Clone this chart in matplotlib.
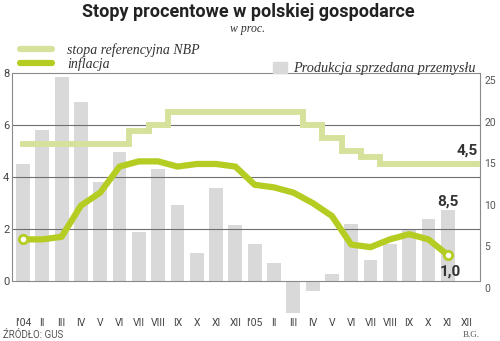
import numpy as np
import matplotlib
matplotlib.use("Agg")
import matplotlib.pyplot as plt
from matplotlib.lines import Line2D
from matplotlib.patches import Patch
from matplotlib.transforms import ScaledTranslation

months = ["I'04", "II", "III", "IV", "V", "VI", "VII", "VIII", "IX", "X", "XI", "XII",
          "I'05", "II", "III", "IV", "V", "VI", "VII", "VIII", "IX", "X", "XI", "XII"]
# stopa referencyjna NBP, I'04 - XII'05
nbp_rate = [5.25, 5.25, 5.25, 5.25, 5.25, 5.25, 5.75, 6.0, 6.5, 6.5, 6.5, 6.5,
            6.5, 6.5, 6.5, 6.0, 5.5, 5.0, 4.75, 4.5, 4.5, 4.5, 4.5, 4.5]
# inflacja, I'04 - XI'05
inflation = [1.6, 1.6, 1.7, 2.9, 3.4, 4.4, 4.6, 4.6, 4.4, 4.5, 4.5, 4.4,
             3.7, 3.6, 3.4, 3.0, 2.5, 1.4, 1.3, 1.6, 1.8, 1.6, 1.0]
# produkcja sprzedana przemyslu, I'04 - XI'05
production = [14.1, 18.1, 24.5, 21.5, 11.9, 15.5, 5.9, 13.5, 9.1, 3.4, 11.2, 6.7,
              4.5, 2.2, -3.8, -1.2, 0.8, 6.8, 2.5, 4.5, 6.2, 7.5, 8.5]

NBP_COLOR = "#d6e29c"
INF_COLOR = "#b5cd22"
BAR_COLOR = "#d9d9d9"
GRID_COLOR = "#6f6f6f"
TEXT_COLOR = "#333333"

fig = plt.figure(figsize=(5, 3.41), dpi=100)
ax = fig.add_axes([0.024, 0.176, 0.936, 0.61])
ax2 = ax.twinx()
ax.set_zorder(ax2.get_zorder() + 1)
ax.patch.set_visible(False)

x = np.arange(len(months))
xp = x[:len(production)]
xi = x[:len(inflation)]

# bars on the right axis
ax2.bar(xp, production, width=0.72, color=BAR_COLOR, clip_on=False, zorder=1)
ax2.set_ylim(0, 25)
ax2.set_yticks([0, 5, 10, 15, 20, 25])
ax2.tick_params(axis="y", length=0, pad=3, labelsize=7.5, labelcolor="#555555")
for lab in ax2.get_yticklabels():
    lab.set_fontfamily("Roboto")
    lab.set_transform(lab.get_transform() + ScaledTranslation(0, -7 / 100, fig.dpi_scale_trans))
for s in ax2.spines.values():
    s.set_visible(False)

# lines on the left axis
ax.set_ylim(0, 8)
ax.set_xlim(-0.57, 23.67)
ax.set_yticks([0, 2, 4, 6, 8])
for yv in [2, 4, 6]:
    ax.axhline(yv, color=GRID_COLOR, lw=0.8, zorder=1)

xs = np.append(x, x[-1] + 0.5)
ys = np.append(nbp_rate, nbp_rate[-1])
ax.plot(xs, ys, drawstyle="steps-mid", color=NBP_COLOR, lw=4.3, zorder=3,
        solid_joinstyle="miter")
ax.plot(xi, inflation, color=INF_COLOR, lw=4.5, zorder=4, solid_joinstyle="round")
ax.plot([xi[0], xi[-1]], [inflation[0], inflation[-1]], "o", ms=6, mfc="white",
        mec=INF_COLOR, mew=2, zorder=5)

for s in ax.spines.values():
    s.set_color("#8a8a8a")
    s.set_linewidth(0.8)

ax.set_xticks(x)
ax.set_xticklabels(months, fontfamily="Roboto", fontsize=7.5, color="#444444")
ax.tick_params(axis="x", length=0, pad=27)
ax.tick_params(axis="y", length=0, pad=2, labelsize=8, labelcolor="#444444")
for lab in ax.get_yticklabels():
    lab.set_fontfamily("Roboto")

fmt = lambda v: f"{v:.1f}".replace(".", ",")
ax.annotate(fmt(nbp_rate[-1]), xy=(x[-1], nbp_rate[-1]), xytext=(0, 9.5),
            textcoords="offset points", ha="center", va="center",
            fontsize=11, fontweight="bold", fontfamily="Roboto", color=TEXT_COLOR)
ax2.annotate(fmt(production[-1]), xy=(xp[-1], production[-1]), xytext=(0, 1),
             textcoords="offset points", ha="center", va="bottom",
             fontsize=11, fontweight="bold", fontfamily="Roboto", color=TEXT_COLOR)
ax.annotate(fmt(inflation[-1]), xy=(xi[-1], inflation[-1]), xytext=(2, -12),
            textcoords="offset points", ha="center", va="center",
            fontsize=11, fontweight="bold", fontfamily="Roboto", color=TEXT_COLOR)

# title
fig.text(0.496, 1 - 12 / 341, "Stopy procentowe w polskiej gospodarce", ha="center",
         va="center", fontsize=13, fontweight="bold", fontfamily="Roboto", color="#222222")
fig.text(0.496, 1 - 29 / 341, "w proc.", ha="center", va="center", fontsize=8.5,
         style="italic", fontfamily="Liberation Serif", color="#333333")

# legends
line_handles = [Line2D([], [], color=NBP_COLOR, lw=4.5, solid_capstyle="round"),
                Line2D([], [], color=INF_COLOR, lw=4.5, solid_capstyle="round")]
leg1 = fig.legend(line_handles, ["stopa referencyjna NBP", "inflacja"],
                  loc="upper left", bbox_to_anchor=(20 / 500, 1 - 43 / 341),
                  frameon=False, borderpad=0, borderaxespad=0, handlelength=2.3,
                  handletextpad=1.1, labelspacing=0.0,
                  prop={"family": "Liberation Serif", "style": "italic", "size": 10})
for t in leg1.get_texts():
    t.set_color("#333333")
leg2 = fig.legend([Patch(color=BAR_COLOR)], ["Produkcja sprzedana przemysłu"],
                  loc="upper left", bbox_to_anchor=(273 / 500, 1 - 62 / 341),
                  frameon=False, borderpad=0, borderaxespad=0, handlelength=1.0,
                  handleheight=0.8, handletextpad=0.4,
                  prop={"family": "Liberation Serif", "style": "italic", "size": 10.3})
for t in leg2.get_texts():
    t.set_color("#333333")

fig.text(3 / 500, 1 - 335 / 341, "ŹRÓDŁO: GUS", ha="left", va="center", fontsize=7,
         fontfamily="Roboto", color="#555555")
fig.text(480 / 500, 1 - 335 / 341, "B.G.", ha="right", va="center", fontsize=6.5,
         fontfamily="Liberation Serif", color="#555555")

fig.savefig("out.png", dpi=100)
